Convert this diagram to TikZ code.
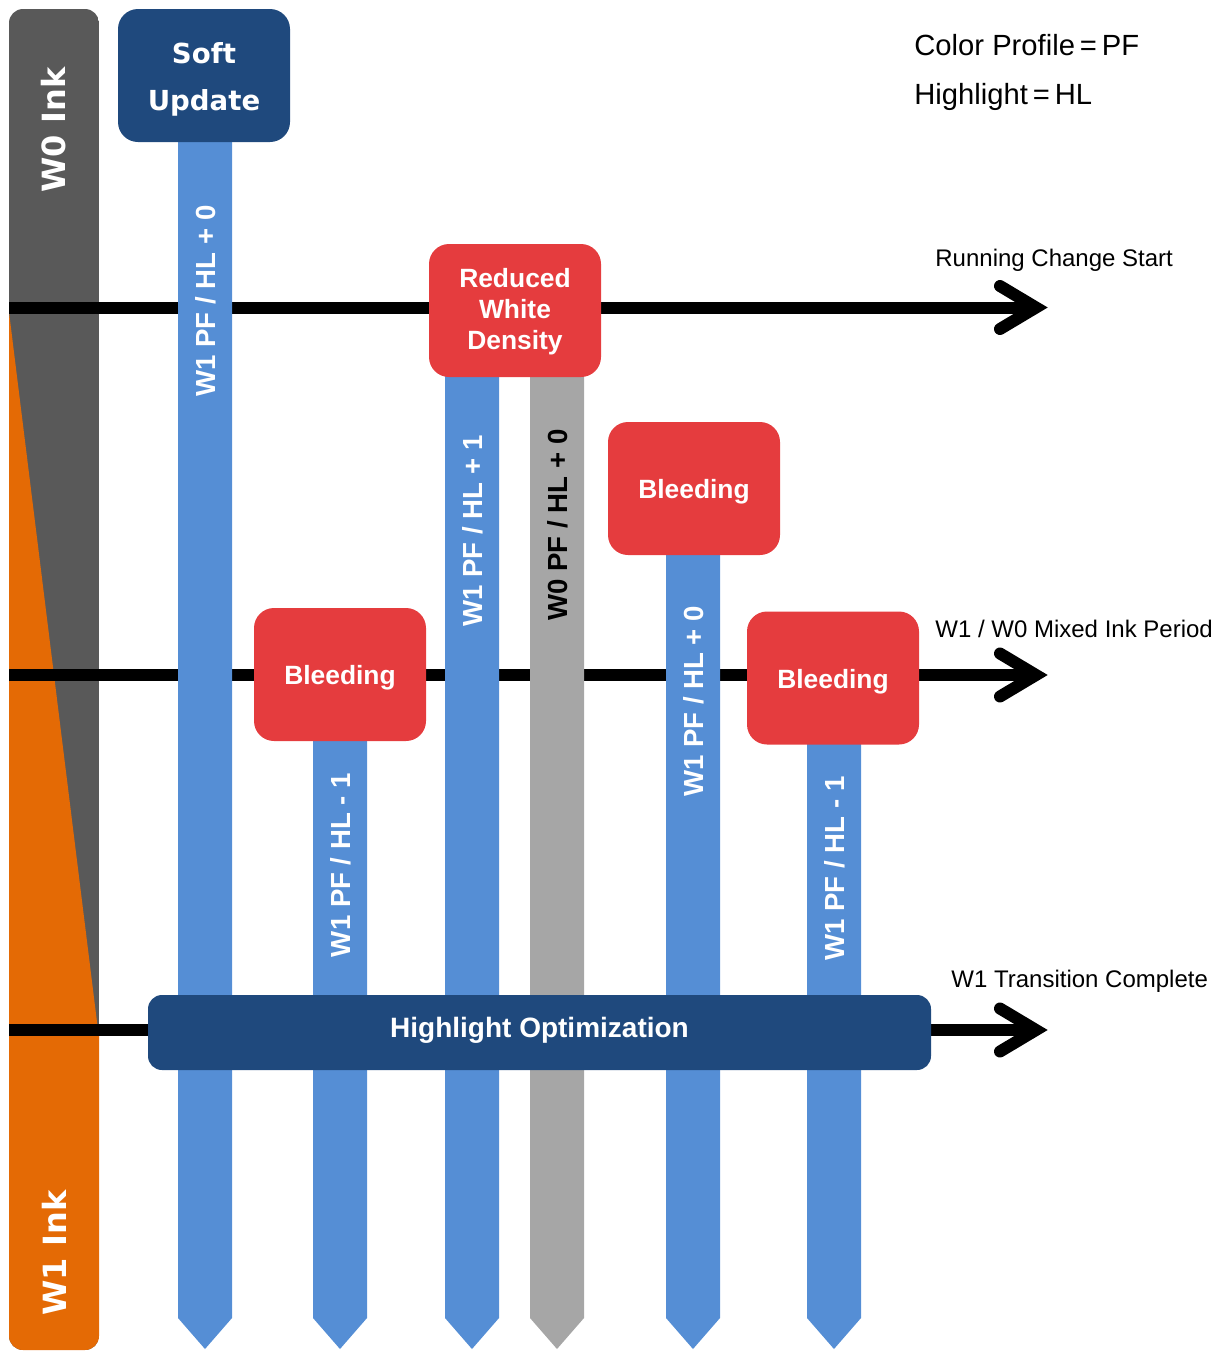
\documentclass[tikz,border=0pt]{standalone}
\usepackage{fontspec}
\setmainfont{Liberation Sans}
\newfontfamily\dvs{DejaVu Sans}
\definecolor{inkgray}{HTML}{595959}
\definecolor{inkorange}{HTML}{E46A05}
\definecolor{darkblue}{HTML}{1F497D}
\definecolor{barblue}{HTML}{558ED5}
\definecolor{boxred}{HTML}{E53C3E}
\definecolor{bargray}{HTML}{A6A6A6}
\newcommand\mybar[4]{\fill[#1] (#2-27,#3) -- (#2+27,#3) -- (#2+27,1318) -- (#2,1349) -- (#2-27,1318) -- cycle;}
\begin{document}
\begin{tikzpicture}[x=0.5pt,y=-0.5pt,
  mainline/.style={line width=6pt,black},
  chev/.style={line width=6pt,black,line cap=round,line join=miter},
  redbox/.style={fill=boxred,rounded corners=10pt,minimum width=86pt,minimum height=66.5pt,inner sep=0pt,text=white,align=center,font=\fontsize{13.2}{15.5}\selectfont\bfseries},
  bleed/.style={redbox,text height=13pt},
  barlabel/.style={rotate=90,text=white,font=\fontsize{13.8}{16}\selectfont\bfseries,inner sep=0pt},
  inklabel/.style={rotate=90,text=white,font=\dvs\fontsize{16}{19}\selectfont\bfseries,inner sep=0pt},
  sidelabel/.style={anchor=base west,inner sep=0pt,font=\fontsize{12}{14}\selectfont}]
\useasboundingbox (0,0) rectangle (1225,1351);
% left ink bar
\begin{scope}
\clip[rounded corners=7pt] (9,9) rectangle (99,1350);
\fill[inkgray] (9,9) rectangle (99,1350);
\fill[inkorange] (9,312) -- (97.5,1026) -- (99,1026) -- (99,1350) -- (9,1350) -- cycle;
\end{scope}
\node[inklabel] (w0) at (54,130) {W0 Ink};
\node[inklabel] (w1) at (54,1253) {W1 Ink};
% timeline lines
\coordinate (a1s) at (9,307.5); \coordinate (a1e) at (1036,307.5);
\coordinate (a2s) at (9,675); \coordinate (a2e) at (1036,675);
\coordinate (a3s) at (9,1030); \coordinate (a3e) at (1036,1030);
\draw[mainline] (a1s) -- (a1e);
\draw[mainline] (a2s) -- (a2e);
\draw[mainline] (a3s) -- (a3e);
\draw[chev] (1000,286) -- (a1e) -- (1000,329);
\draw[chev] (1000,653.5) -- (a2e) -- (1000,696.5);
\draw[chev] (1000,1008.5) -- (a3e) -- (1000,1051.5);
% bars
\mybar{barblue}{205}{100}{}
\mybar{barblue}{340}{700}{}
\mybar{barblue}{472}{330}{}
\mybar{bargray}{557}{330}{}
\mybar{barblue}{693}{500}{}
\mybar{barblue}{834}{700}{}
\node[barlabel] (t1) at (206,301) {W1 PF / HL + 0};
\node[barlabel] (t2) at (341,865) {W1 PF / HL - 1};
\node[barlabel] (t3) at (473,531) {W1 PF / HL + 1};
\node[barlabel,text=black] (t4) at (558,525) {W0 PF / HL + 0};
\node[barlabel] (t5) at (694,701.5) {W1 PF / HL + 0};
\node[barlabel] (t6) at (835,868.5) {W1 PF / HL - 1};
% boxes
\node[fill=darkblue,rounded corners=10pt,minimum width=86pt,minimum height=66.5pt,inner sep=0pt,text=white,align=center,text height=38pt,font=\dvs\fontsize{13.8}{23.5}\selectfont\bfseries] (soft) at (204,75.5) {Soft\\Update};
\node[redbox,text height=41.5pt] (rwd) at (515,310.5) {Reduced\\White\\Density};
\node[bleed] (bl1) at (340,674.5) {Bleeding};
\node[bleed] (bl2) at (694,488.5) {Bleeding};
\node[bleed] (bl3) at (833,678) {Bleeding};
\node[fill=darkblue,rounded corners=7pt,minimum width=391.5pt,minimum height=37.5pt,inner sep=0pt,text=white,text depth=5pt,font=\fontsize{14}{16}\selectfont\bfseries] (hlo) at (539.5,1032.5) {Highlight Optimization};
% labels
\node[sidelabel] (lab1) at (935,266) {Running Change Start};
\node[sidelabel] (lab2) at (935,637) {W1 / W0 Mixed Ink Period};
\node[sidelabel] (lab3) at (951,987) {W1 Transition Complete};
\node[anchor=base west,inner sep=0pt,font=\fontsize{14.6}{17}\selectfont] (leg1) at (914,55) {Color Profile\,=\,PF};
\node[anchor=base west,inner sep=0pt,font=\fontsize{14.6}{17}\selectfont] (leg2) at (914,104) {Highlight\,=\,HL};
\end{tikzpicture}
\end{document}
